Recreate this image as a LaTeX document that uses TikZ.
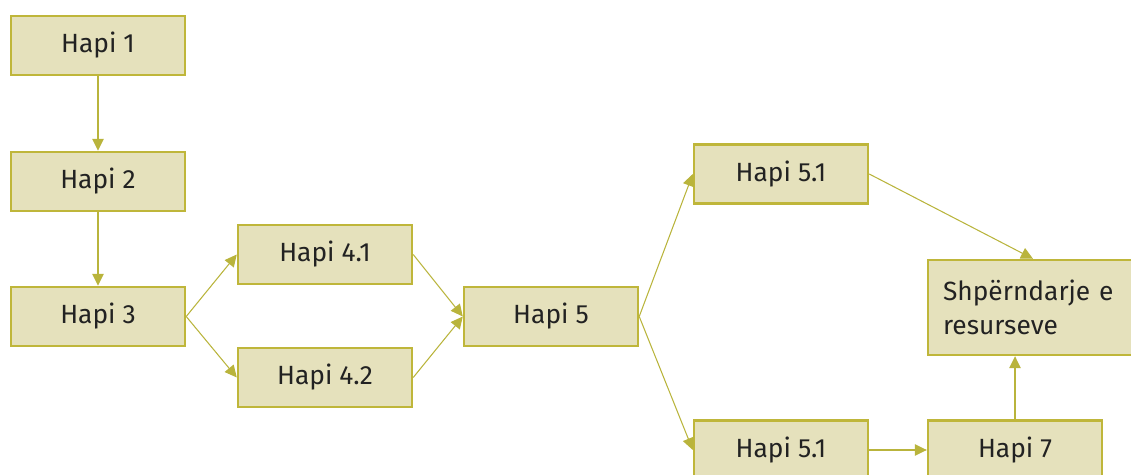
\documentclass[tikz,border=0pt]{standalone}
\usepackage{fontspec}
\setmainfont{Fira Sans}
\usepackage{xcolor}
\usepackage{tikz}
\usetikzlibrary{arrows.meta,positioning}

\definecolor{boxfill}{HTML}{E5E1BC}
\definecolor{boxline}{HTML}{BFB63A}
\definecolor{linkcol}{HTML}{B9B43C}
\definecolor{textcol}{HTML}{222222}

\begin{document}
\begin{tikzpicture}[x=0.02cm,y=-0.02cm,>={Triangle[length=0.24cm,width=0.23cm]},
    state/.style={draw=boxline,fill=boxfill,line width=1.4pt,minimum width=3.48cm,minimum height=1.18cm,
        inner sep=2pt,text=textcol,font=\fontsize{15}{19.3}\selectfont},
    link/.style={->,color=linkcol,line width=0.6pt}]

    \useasboundingbox (0,0) rectangle (1131,475);

    % The steps
    \node [state] at (98,45.5) (h1) {Hapi 1};
    \node [state] at (98,181.5) (h2) {Hapi 2};
    \node [state] at (98,316.5) (h3) {Hapi 3};
    \node [state] at (325,254.5) (h41) {Hapi 4.1};
    \node [state] at (325,377.5) (h42) {Hapi 4.2};
    \node [state] at (551,316.5) (h5) {Hapi 5};
    \node [state] at (781,174) (h51) {Hapi 5.1};
    \node [state] at (781,450) (h52) {Hapi 5.1};
    \node [state] at (1015,450) (h7) {Hapi 7};
    \node [state,minimum width=4.2cm,minimum height=1.9cm,text width=3.6cm,align=left] at (1033,307.5) (shp)
        {Shpërndarje e\\resurseve};

    % Links
    \path[link]
    (h1) edge (h2)
    (h2) edge (h3)
    (h3.east) edge (h41.west)
    (h3.east) edge (h42.west)
    (h41.east) edge (h5.west)
    (h42.east) edge (h5.west)
    (h5.east) edge (h51.west)
    (h5.east) edge (h52.west)
    (h51.east) edge (shp.north)
    (h52) edge (h7)
    (h7.north) edge (h7.north |- shp.south);
\end{tikzpicture}
\end{document}
